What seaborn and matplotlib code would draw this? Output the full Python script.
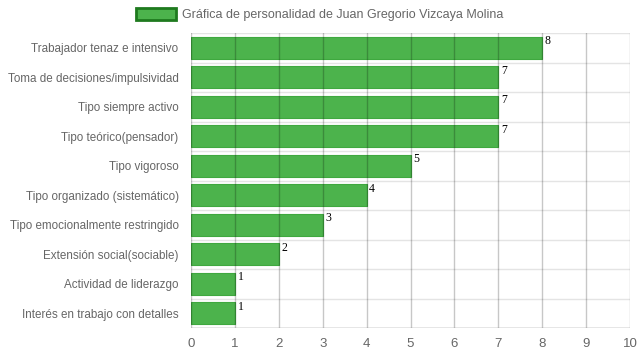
import matplotlib
matplotlib.use("Agg")
import matplotlib.pyplot as plt
import seaborn as sns
import pandas as pd
from matplotlib.patches import Patch

# Chart data
rasgos = [
    "Trabajador tenaz e intensivo",
    "Toma de decisiones/impulsividad",
    "Tipo siempre activo",
    "Tipo teórico(pensador)",
    "Tipo vigoroso",
    "Tipo organizado (sistemático)",
    "Tipo emocionalmente restringido",
    "Extensión social(sociable)",
    "Actividad de liderazgo",
    "Interés en trabajo con detalles",
]
puntajes = [8, 7, 7, 7, 5, 4, 3, 2, 1, 1]
x_ticks = list(range(0, 11))
titulo_serie = "Gráfica de personalidad de Juan Gregorio Vizcaya Molina"

df = pd.DataFrame({"rasgo": rasgos, "puntaje": puntajes})

sns.set_style("white")
plt.rcParams["font.family"] = ["Arial", "Liberation Sans", "DejaVu Sans"]

fig = plt.figure(figsize=(6.39, 3.6), dpi=100)
ax = fig.add_axes([191 / 639, 1 - 328 / 360, (630 - 191) / 639, (328 - 33) / 360])

sns.barplot(data=df, x="puntaje", y="rasgo", orient="h", color="#4cb34c",
            saturation=1, width=0.75, edgecolor="#3fa83f", linewidth=0.8, ax=ax, zorder=2)

# grid
ax.set_xlim(0, 10)
ax.set_ylim(len(rasgos) - 0.5, -0.5)
ax.set_xticks(x_ticks)
for x in x_ticks:
    ax.axvline(x, color="#000000", alpha=0.22, lw=1, zorder=3)
for y in range(len(rasgos) + 1):
    ax.axhline(y - 0.5, color="#e4e4e4", lw=1, zorder=1)

for s in ax.spines.values():
    s.set_visible(False)
ax.axhline(len(rasgos) - 0.5, color="#999999", lw=1, zorder=4)

ax.tick_params(axis="y", length=0, pad=9, labelsize=8.4, labelcolor="#666666")
ax.tick_params(axis="x", length=5, color="#cccccc", pad=2, labelsize=9.5, labelcolor="#666666")
ax.set_xlabel("")
ax.set_ylabel("")

# value labels
for i, v in enumerate(puntajes):
    ax.text(v + 0.06, i - 0.22, str(v), fontsize=8.5, family="Liberation Serif",
            color="#000000", ha="left", va="center", zorder=5)

# legend
handle = Patch(facecolor="#4cb34c", edgecolor="#1e7a1e", linewidth=2)
fig.legend([handle], [titulo_serie], loc="upper center", bbox_to_anchor=(0.5, 1.01),
           frameon=False, fontsize=9, handlelength=3.2, handleheight=1.1,
           labelcolor="#666666", handletextpad=0.5)

fig.savefig("out.png", dpi=100)
